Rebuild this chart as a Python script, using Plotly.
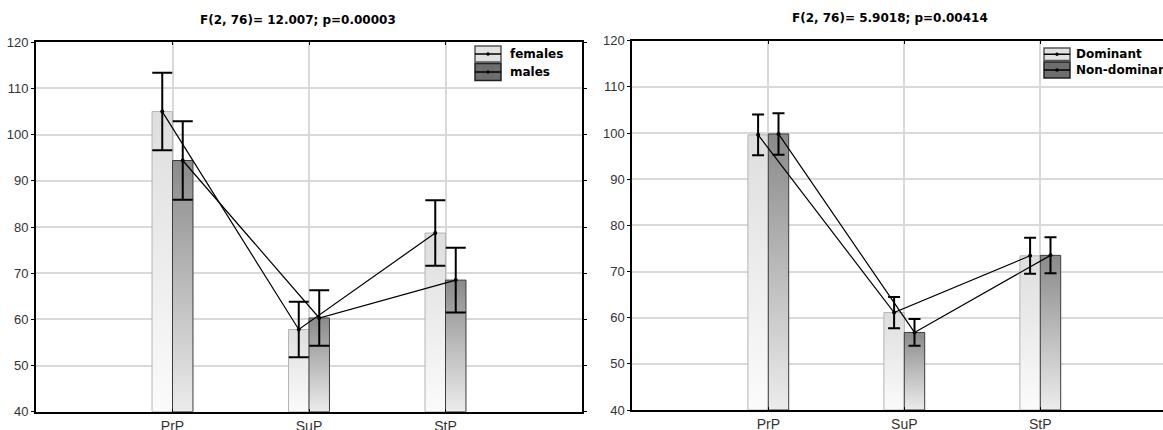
import plotly.graph_objects as go

# ---------------- data ----------------
categories = ["PrP", "SuP", "StP"]
y_ticks = [40, 50, 60, 70, 80, 90, 100, 110, 120]

left_title = "F(2, 76)= 12.007; p=0.00003"
right_title = "F(2, 76)= 5.9018; p=0.00414"

left_series = ["females", "males"]
right_series = ["Dominant", "Non-dominant"]

females_mean = [105.0, 57.8, 78.7]
females_err = [8.4, 6.0, 7.1]
males_mean = [94.4, 60.3, 68.5]
males_err = [8.5, 6.0, 7.0]

dominant_mean = [99.6, 61.1, 73.4]
dominant_err = [4.4, 3.4, 3.9]
nondominant_mean = [99.8, 56.8, 73.5]
nondominant_err = [4.5, 2.9, 3.9]

# ---------------- styling ----------------
W, H = 1163, 430
FONT_NARROW = "Liberation Sans Narrow, Arial Narrow, Liberation Sans, Arial, sans-serif"
FONT_BOLD = "DejaVu Sans, Liberation Sans, Arial, sans-serif"
BASE = 40
HALF = 0.075  # half bar width (category units)

LIGHT = dict(grad=[[0, "#fbfbfb"], [1, "#dedede"]], outline="#b4b4b4", swatch="#e2e2e2")
DARK = dict(grad=[[0, "#ececec"], [1, "#8a8a8a"]], outline="#3c3c3c", swatch="#6e6e6e")

fig = go.Figure()


def add_panel(series, xa, ya, errw):
    offsets = [-HALF, HALF]
    for (means, errs, sty), off in zip(series, offsets):
        for i, v in enumerate(means):
            c = i + 1 + off
            fig.add_trace(go.Scatter(
                x=[c - HALF, c - HALF, c + HALF, c + HALF, c - HALF],
                y=[BASE, v, v, BASE, BASE],
                mode="lines", fill="toself",
                fillgradient=dict(type="vertical", colorscale=sty["grad"]),
                line=dict(color=sty["outline"], width=1),
                xaxis=xa, yaxis=ya, showlegend=False, hoverinfo="skip"))
    for (means, errs, sty), off in zip(series, offsets):
        xs = [i + 1 + off for i in range(len(means))]
        fig.add_trace(go.Scatter(
            x=xs, y=means, mode="lines+markers",
            line=dict(color="black", width=1.2),
            marker=dict(color="black", size=4),
            error_y=dict(type="data", array=errs, color="black",
                         thickness=2, width=errw),
            xaxis=xa, yaxis=ya, showlegend=False))


add_panel([(females_mean, females_err, LIGHT),
           (males_mean, males_err, DARK)], "x", "y", 10)
add_panel([(dominant_mean, dominant_err, LIGHT),
           (nondominant_mean, nondominant_err, DARK)], "x2", "y2", 6)

# ---------------- axes ----------------
L0, L1 = 36, 582
R0 = 632.3
unit_r = 136.0
r_end = (W - R0) / unit_r

axis_common = dict(showgrid=True, gridcolor="#d9d9d9", gridwidth=2,
                   showline=True, linecolor="black", linewidth=2,
                   zeroline=False, tickcolor="black", ticklen=3)

xcommon = dict(axis_common, tickmode="array", tickvals=[1, 2, 3], ticktext=categories,
               ticks="inside", tickfont=dict(family=FONT_NARROW, size=14, color="#333"))
ycommon = dict(axis_common, tickmode="array", tickvals=y_ticks, ticks="outside",
               range=[40, 120], tickfont=dict(family=FONT_NARROW, size=13, color="#333"))


def px(x):
    return x / W


def py(y):
    return 1 - y / H


shapes = []
annotations = [
    dict(text=left_title, x=px(298), y=py(20), xref="paper", yref="paper",
         showarrow=False, xanchor="center", yanchor="middle",
         font=dict(family=FONT_BOLD, size=12, color="black", weight="bold")),
    dict(text=right_title, x=px(890), y=py(18), xref="paper", yref="paper",
         showarrow=False, xanchor="center", yanchor="middle",
         font=dict(family=FONT_BOLD, size=12, color="black", weight="bold")),
]

# manual legends (swatch box + line with marker + bold label)
legend_specs = [
    (left_series, (475, 501), [(46, 62), (63.5, 80.5)], 508),
    (right_series, (1044, 1070), [(48, 60.5), (62, 78)], 1074),
]
for names, (sx0, sx1), rows, tx in legend_specs:
    for name, (y0, y1), sty in zip(names, rows, [LIGHT, DARK]):
        shapes.append(dict(type="rect", xref="paper", yref="paper",
                           x0=px(sx0), x1=px(sx1), y0=py(y1), y1=py(y0),
                           fillcolor=sty["swatch"],
                           line=dict(color="#555" if sty is LIGHT else "#222", width=1.5)))
        ym = (y0 + y1) / 2
        shapes.append(dict(type="line", xref="paper", yref="paper",
                           x0=px(sx0), x1=px(sx1), y0=py(ym), y1=py(ym),
                           line=dict(color="black", width=1.5)))
        shapes.append(dict(type="circle", xref="paper", yref="paper",
                           x0=px((sx0 + sx1) / 2 - 1.8), x1=px((sx0 + sx1) / 2 + 1.8),
                           y0=py(ym + 1.8), y1=py(ym - 1.8),
                           fillcolor="black", line=dict(color="black", width=0)))
        annotations.append(dict(text=name, x=px(tx), y=py(ym), xref="paper", yref="paper",
                                showarrow=False, xanchor="left", yanchor="middle",
                                font=dict(family=FONT_BOLD, size=12, color="black",
                                          weight="bold")))

fig.update_layout(
    width=W, height=H,
    margin=dict(l=0, r=0, t=0, b=0, pad=0, autoexpand=False),
    paper_bgcolor="white", plot_bgcolor="white",
    showlegend=False,
    xaxis=dict(xcommon, domain=[L0 / W, L1 / W], range=[0, 4], mirror="ticks", anchor="y"),
    yaxis=dict(ycommon, domain=[1 - 411.7 / H, 1 - 42.3 / H], mirror="ticks", anchor="x"),
    xaxis2=dict(xcommon, domain=[R0 / W, 1.0], range=[0, r_end], mirror="ticks", anchor="y2"),
    yaxis2=dict(ycommon, domain=[1 - 410 / H, 1 - 40.7 / H], mirror=False, anchor="x2"),
    shapes=shapes,
    annotations=annotations,
)

fig.write_html("out.html",
               config={"displayModeBar": False, "staticPlot": True},
               post_script="document.body.style.margin='0';document.body.style.overflow='hidden';")
